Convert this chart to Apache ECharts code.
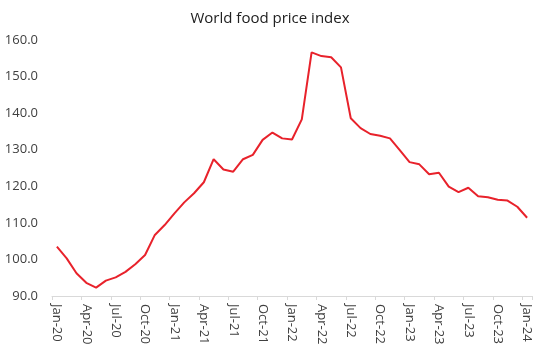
<!DOCTYPE html>
<html>
<head>
<meta charset="utf-8">
<script src="https://cdn.jsdelivr.net/npm/echarts@6/dist/echarts.min.js"></script>
<style>html,body{margin:0;padding:0;background:#fff;}#c{width:540px;height:352px;}</style>
</head>
<body>
<div id="c"></div>
<script>
const months = [
 "Jan-20","Feb-20","Mar-20","Apr-20","May-20","Jun-20","Jul-20","Aug-20","Sep-20","Oct-20","Nov-20","Dec-20",
 "Jan-21","Feb-21","Mar-21","Apr-21","May-21","Jun-21","Jul-21","Aug-21","Sep-21","Oct-21","Nov-21","Dec-21",
 "Jan-22","Feb-22","Mar-22","Apr-22","May-22","Jun-22","Jul-22","Aug-22","Sep-22","Oct-22","Nov-22","Dec-22",
 "Jan-23","Feb-23","Mar-23","Apr-23","May-23","Jun-23","Jul-23","Aug-23","Sep-23","Oct-23","Nov-23","Dec-23",
 "Jan-24"
];
const foodPriceIndex = [
 103.5,100.3,96.2,93.6,92.3,94.2,95.1,96.6,98.7,101.2,106.7,109.4,
 112.6,115.6,118.1,121.1,127.4,124.6,124.0,127.4,128.6,132.7,134.7,133.1,
 132.8,138.3,156.6,155.6,155.3,152.5,138.6,135.9,134.3,133.8,133.1,129.9,
 126.6,126.0,123.3,123.7,119.9,118.4,119.6,117.3,117.0,116.3,116.1,114.4,
 111.4
];
const yTicks = {min: 90, max: 160, interval: 10};
const titleText = "World food price index";

const chart = echarts.init(document.getElementById('c'), null, {renderer: 'canvas'});
chart.setOption({
  animation: false,
  title: {
    text: titleText, left: 'center', top: 6,
    textStyle: {fontFamily: 'Open Sans', fontSize: 15, fontWeight: 'normal', color: '#202020'}
  },
  grid: {left: 52, right: 8, top: 40, height: 256},
  xAxis: {
    type: 'category', data: months, boundaryGap: true,
    axisLine: {lineStyle: {color: '#d9d9d9'}},
    axisTick: {show: true, interval: 2, length: 4, lineStyle: {color: '#d9d9d9'}},
    axisLabel: {interval: 2, rotate: -90, margin: 8, fontFamily: 'Open Sans', fontSize: 13, color: '#404040'}
  },
  yAxis: {
    type: 'value', min: yTicks.min, max: yTicks.max, interval: yTicks.interval,
    axisLine: {show: false}, axisTick: {show: false}, splitLine: {show: false},
    axisLabel: {margin: 14, fontFamily: 'Open Sans', fontSize: 13, color: '#404040',
      formatter: v => v.toFixed(1)}
  },
  series: [{
    type: 'line', data: foodPriceIndex, showSymbol: false,
    lineStyle: {color: '#e8222b', width: 2}
  }]
});
</script>
</body>
</html>
